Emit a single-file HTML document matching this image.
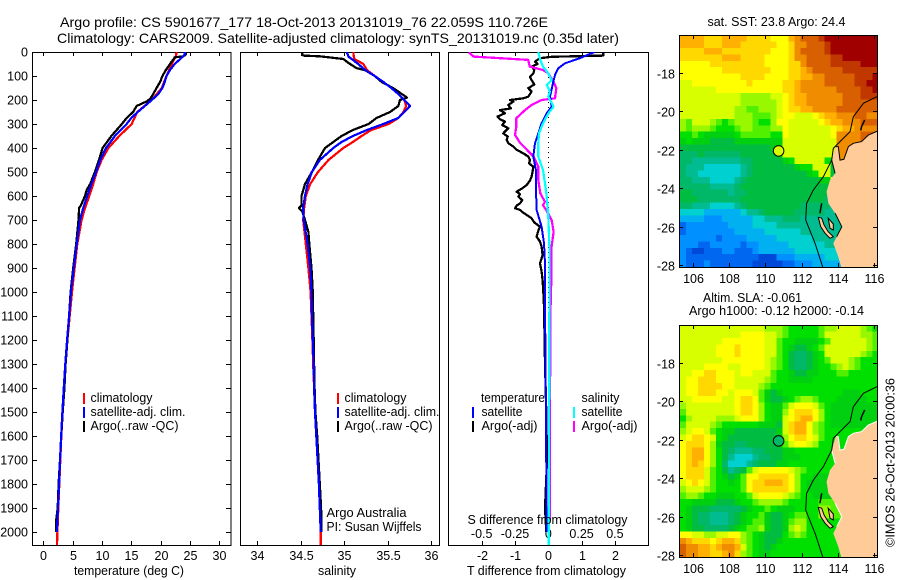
<!DOCTYPE html>
<html lang="en">
<head>
<meta charset="utf-8">
<title>Argo profile 5901677_177</title>
<style>
html,body{margin:0;padding:0;background:#fff;width:900px;height:580px;overflow:hidden}
svg{display:block}
text{font-family:"Liberation Sans",sans-serif;font-size:12.5px;fill:#000}
</style>
</head>
<body>
<svg id="chart" xmlns="http://www.w3.org/2000/svg" width="900" height="580" viewBox="0 0 900 580">
<defs>
<clipPath id="clip-temp"><rect x="32" y="52" width="199" height="493"/></clipPath>
<clipPath id="clip-sal"><rect x="240" y="52" width="199" height="493"/></clipPath>
<clipPath id="clip-diff"><rect x="448" y="52" width="200" height="493"/></clipPath>
<clipPath id="clip-map1"><rect x="680" y="36" width="197" height="231"/></clipPath>
<clipPath id="clip-map2"><rect x="680" y="326" width="197" height="231"/></clipPath>
</defs>

<text x="60" y="27" style="font-size:14px" textLength="488" lengthAdjust="spacingAndGlyphs">Argo profile: CS 5901677_177 18-Oct-2013 20131019_76 22.059S 110.726E</text>
<text x="57" y="43" style="font-size:14px" textLength="562" lengthAdjust="spacingAndGlyphs">Climatology: CARS2009. Satellite-adjusted climatology: synTS_20131019.nc (0.35d later)</text>

<g id="temp-panel"></g>
<g id="sal-panel"></g>
<g id="diff-panel"></g>

<text x="74" y="575" textLength="110" lengthAdjust="spacingAndGlyphs">temperature (deg C)</text>
<text x="318" y="575" textLength="38" lengthAdjust="spacingAndGlyphs">salinity</text>
<text x="467" y="575" textLength="159" lengthAdjust="spacingAndGlyphs">T difference from climatology</text>
<text x="467.5" y="524" textLength="160" lengthAdjust="spacingAndGlyphs">S difference from climatology</text>

<g>
<rect x="83" y="393" width="2" height="11" fill="#ff0000"/>
<text x="90.5" y="402" textLength="62" lengthAdjust="spacingAndGlyphs">climatology</text>
<rect x="83" y="407" width="2" height="11" fill="#0000ff"/>
<text x="90.5" y="416" textLength="95" lengthAdjust="spacingAndGlyphs">satellite-adj. clim.</text>
<rect x="83" y="421" width="2" height="11" fill="#000"/>
<text x="90.5" y="430" textLength="88" lengthAdjust="spacingAndGlyphs">Argo(..raw -QC)</text>
</g>
<g>
<rect x="337" y="393" width="2" height="11" fill="#ff0000"/>
<text x="344.5" y="402" textLength="62" lengthAdjust="spacingAndGlyphs">climatology</text>
<rect x="337" y="407" width="2" height="11" fill="#0000ff"/>
<text x="344.5" y="416" textLength="95" lengthAdjust="spacingAndGlyphs">satellite-adj. clim.</text>
<rect x="337" y="421" width="2" height="11" fill="#000"/>
<text x="344.5" y="430" textLength="88" lengthAdjust="spacingAndGlyphs">Argo(..raw -QC)</text>
</g>
<text x="326.5" y="517" textLength="80" lengthAdjust="spacingAndGlyphs">Argo Australia</text>
<text x="326.5" y="531" textLength="95" lengthAdjust="spacingAndGlyphs">PI: Susan Wijffels</text>

<g>
<text x="481" y="402" textLength="64" lengthAdjust="spacingAndGlyphs">temperature</text>
<rect x="472" y="407" width="2" height="11" fill="#0000ff"/>
<text x="481.5" y="416" textLength="41" lengthAdjust="spacingAndGlyphs">satellite</text>
<rect x="472" y="421" width="2" height="11" fill="#000"/>
<text x="481.5" y="430" textLength="56" lengthAdjust="spacingAndGlyphs">Argo(-adj)</text>
<text x="581.5" y="402" textLength="38" lengthAdjust="spacingAndGlyphs">salinity</text>
<rect x="573" y="407" width="2" height="11" fill="#00ffff"/>
<text x="581.5" y="416" textLength="41" lengthAdjust="spacingAndGlyphs">satellite</text>
<rect x="573" y="421" width="2" height="11" fill="#ff00ff"/>
<text x="581.5" y="430" textLength="56" lengthAdjust="spacingAndGlyphs">Argo(-adj)</text>
</g>

<text x="707.5" y="26" textLength="138" lengthAdjust="spacingAndGlyphs">sat. SST: 23.8 Argo: 24.4</text>
<g id="sst-map"></g>
<text x="703" y="302" textLength="99" lengthAdjust="spacingAndGlyphs">Altim. SLA: -0.061</text>
<text x="689" y="315" textLength="175" lengthAdjust="spacingAndGlyphs">Argo h1000: -0.12 h2000: -0.14</text>
<g id="sla-map"></g>
<text transform="translate(894.5,547) rotate(-90)" x="0" y="0" textLength="169" lengthAdjust="spacingAndGlyphs">©IMOS 26-Oct-2013 20:00:36</text>
</svg>

<script>
// ---------- profile data ----------
const depthTicks = [0,100,200,300,400,500,600,700,800,900,1000,1100,1200,1300,1400,1500,1600,1700,1800,1900,2000];
const tempTicks = [0,5,10,15,20,25,30];
const salTicks = [34,34.5,35,35.5,36];
const tDiffTicks = [-2,-1,0,1,2];
const sDiffTicks = [-0.5,-0.25,0,0.25,0.5];

const climDepths = [0,20,30,50,100,150,200,250,300,350,400,450,500,550,600,650,700,800,900,1000,1100,1200,1300,1400,1500,1600,1700,1800,1900,2000,2055];
const climTemp = [22.7,22.6,22.3,21.9,21,20.2,18.5,16,15.06,12.95,11.1,9.94,9.1,8.5,7.84,7.1,6.53,5.8,5.34,4.89,4.5,4.1,3.8,3.5,3.3,3.07,2.9,2.73,2.56,2.4,2.33];

const satTempDepths = [0,10,20,30,50,75,100,125,150,175,200,225,250,275,300,350,400,450,500,550,600,650,700,800,900,1000,1100,1200,1300,1400,1500,1600,1700,1800,1900,2000];
const satTemp = [24.1,24.1,23.7,23.3,22.4,21.6,21,20.7,20.3,19.6,18.5,17.3,16.1,15,14.2,12.2,10.7,9.7,9,8.2,7.5,6.8,6.25,5.7,5.2,4.7,4.4,4.05,3.75,3.5,3.25,3.05,2.85,2.7,2.5,2.3];

const argoTempDepths = [0,10,18,22,30,50,75,100,125,150,175,195,205,225,250,275,300,350,400,450,500,550,575,600,640,650,700,800,900,1000,1100,1200,1300,1400,1500,1600,1700,1800,1900,1950,2000];
const argoTemp = [24.3,24.3,23.9,22.4,22.2,21.6,20.9,20.3,19.9,19.3,18.75,18.2,17.7,15.9,15.3,14.2,13.4,11.6,10.1,9.5,8.8,8,7.4,7.1,6.4,6.1,6,5.6,5.1,4.66,4.4,4.1,3.8,3.6,3.3,3.05,2.85,2.6,2.45,2.2,2.2];

const salClimDepths = [0,20,30,50,75,100,125,150,175,200,225,250,275,300,325,350,375,400,450,500,550,600,650,700,800,900,1000,1100,1200,1300,1400,1500,1600,1700,1800,1900,2000,2055];
const climSal = [35.105,35.11,35.12,35.22,35.26,35.35,35.45,35.54,35.62,35.69,35.71,35.68,35.62,35.51,35.31,35.2,35.1,34.99,34.82,34.7,34.61,34.56,34.54,34.53,34.56,34.59,34.615,34.625,34.635,34.645,34.655,34.665,34.68,34.695,34.71,34.72,34.73,34.73];

const salSatDepths = [0,20,30,50,75,100,125,150,175,200,225,250,275,300,325,350,375,400,450,500,550,600,650,700,800,900,1000,1100,1200,1300,1400,1500,1600,1700,1800,1900,2000];
const satSal = [35.03,35.05,35.09,35.16,35.24,35.35,35.45,35.54,35.62,35.69,35.755,35.69,35.62,35.45,35.26,35.1,34.97,34.875,34.72,34.63,34.58,34.55,34.53,34.535,34.58,34.61,34.625,34.63,34.64,34.65,34.655,34.665,34.68,34.695,34.71,34.72,34.73];

const salArgoDepths = [0,10,15,18,29,46,67,76,100,125,150,175,190,200,225,250,275,300,325,350,375,400,450,500,550,600,640,650,665,700,750,800,900,1000,1100,1200,1300,1400,1500,1600,1700,1800,1900,2000];
const argoSal = [34.52,34.52,34.53,34.72,34.99,35.05,35.14,35.24,35.35,35.43,35.56,35.66,35.72,35.64,35.62,35.525,35.37,35.28,35.1,34.97,34.875,34.78,34.7,34.63,34.55,34.51,34.51,34.48,34.52,34.55,34.59,34.6,34.625,34.64,34.645,34.65,34.655,34.66,34.67,34.69,34.705,34.72,34.735,34.74];

const tArgoDiffDepths = [0,15,20,26,40,50,61,75,89,103,117,135,151,165,186,193,200,207,221,235,242,255,269,280,290,304,318,328,339,352,366,380,394,408,422,436,450,464,478,498,519,535,554,568,582,592,603,617,631,640,651,658,665,679,693,710,728,745,769,790,811,846,881,915,950,1000,1061,1300,1500,1700,1900,2000];
const tArgoDiff = [1.65,1.65,0.1,-0.25,-0.4,-0.32,-0.5,-0.42,-0.45,-0.55,-0.5,-0.42,-0.6,-0.5,-0.6,-0.75,-1.15,-1.05,-1.2,-1.12,-1.45,-1.3,-1.53,-1.45,-1.3,-1.38,-1.2,-1.28,-1.35,-1.22,-1.25,-1.2,-1.05,-0.95,-0.75,-0.6,-0.55,-0.58,-0.45,-0.47,-0.5,-0.55,-0.65,-0.78,-0.95,-0.85,-0.9,-0.78,-0.85,-0.95,-1,-0.85,-0.8,-0.65,-0.5,-0.42,-0.25,-0.3,-0.35,-0.25,-0.2,-0.17,-0.25,-0.2,-0.17,-0.15,-0.13,-0.1,-0.06,-0.04,-0.1,-0.06];

const tSatDiffDepths = [0,5,26,47,68,96,124,186,228,256,297,339,380,436,492,575,658,728,797,881,1061,1500,2000];
const tSatDiff = [1.4,1.3,0.95,0.5,0.3,0.2,0.15,0.05,0.1,-0.05,-0.2,-0.3,-0.4,-0.45,-0.37,-0.37,-0.35,-0.2,-0.13,-0.1,-0.1,-0.07,-0.05];

const sSatDiffDepths = [0,33,61,89,117,137,165,186,228,256,297,339,380,436,492,547,603,686,811,1061,1500,2055];
const sSatDiff = [-0.075,-0.06,-0.04,0,0.025,-0.012,0.012,0,0.04,0,-0.04,-0.07,-0.075,-0.075,-0.04,-0.025,-0.012,0,0.008,0.008,0.006,0.004];

const sArgoDiffDepths = [0,5,19,26,33,61,75,89,124,151,193,200,221,242,276,311,346,380,408,436,478,533,589,624,638,664,700,749,811,903,1061,1500,1950];
const sArgoDiff = [-0.59,-0.59,-0.56,-0.36,-0.15,-0.14,-0.04,0,0.04,0.06,0.05,-0.05,-0.125,-0.175,-0.24,-0.24,-0.25,-0.21,-0.16,-0.11,-0.075,-0.075,-0.06,-0.025,-0.04,-0.01,0.025,0.04,0.025,0.025,0.017,0.012,0.012];

// ---------- map data: colour level per cell, a (coldest) to t (warmest) ----------
const lonStart = 105.27, latStart = 16.04, lonStep = 1/3, latStep = 0.335;
const markerLon = 110.73, markerLat = 22.06;
const sstRows = [
"ppppoooppppoooonnnpqrrrsttttttttt",
"ppppooopppoooooonnoqqrrrstttttttt",
"oooopppoooooooonnnoqrrrrstttttttt",
"ooooooopppoooonnnnoqqrrrrsstttttt",
"nnnnnooooooooonnnnooqrrrrsssssttt",
"nnnnnnnoooooooonnnoopqrrrrrssssss",
"nnnnnnnnnnoooonnnnooppqqrrrrrssst",
"mmnnnnnnnnnonnnnnoopqqqqrrrrrsstt",
"mmmmmmnnnnnnnnnnnoopqqqqqqrrrrsst",
"mmmmmmmmmmlllllmmnoppqqqqqqrrrsss",
"mmmmmmmmmmllllllmnoppqqqqqqrrrrrr",
"mmmmmmmmmllkklllmnooppqqqqrrrrrrr",
"mmmmmmmmmlllkkklmnnmmmnoppqqqrrqq",
"lkmmmlkjklllkjjlnnmmmmmnoppqqqrrr",
"lklllkjjjkllkkkllnmmmmmmmnoppqqqq",
"jjkjiiiiijkkkkkjjnmmmmmmmnqqqqrrr",
"ijiiihhhhiiiiiiiimmmmmmmmmqqqqrrr",
"hhhhhhhhhhhhhhhiimmmmmmmmmqqqqqqq",
"ggghgggggghhhhhhimmmmmmmmmqqqqqqq",
"ggffffffffgghhhhhijmmmmmjjqqqffff",
"gfffeeeeeefghhhhhhhijjmmmhjjjffff",
"gffeeeeeeefghhhhhhhhhijmmhhhhffff",
"ggfffeeeefghhhhhhhhhhhhiimgffffff",
"gggggffffghhhhhhhhhhhhhhhhgffffff",
"hhggggggfgghhhhhhhhhhhhhhhgffffff",
"hhhggggggghhhhhhhhhhhhhhgggffffff",
"ggfffeeeefghhhhhhhhhgggggffffffff",
"eeeeddddddeffghhhhhgggggfffffffff",
"ddddcccdddddeefffgggfffffffffffff",
"bcccccccddddeeeefffffffffffffffff",
"bccccccccdddddeeeeeefffffffffffff",
"ccccccbccccdddddeeeeeefffffffffff",
"cccbbcccccbccdddddeeeeeefffeedddd",
"cbaabbbccbbbcddddddeeeeeeeeeddddd",
"cbbbbbbbbbbbbaaacccdddddeeeeddddd",
"cbbbcbbbbbbbaaaaabbcccddddddddddd"
];
const slaRows = [
"mmmmmmmmmmmmmmlllkjjjjjkllmmmmlkj",
"mmmmmmmmmmnnnnmmlkjjjjjkmmmmmmllk",
"mmmmmmmnnnnnnnmmkjjiiiijkmmmmmmlk",
"mmmmmmnnnonnnnmmkjihhijkmmmmmmmlk",
"mmmmmmnnnonnnnmmkjhgghijmmmmmmlkj",
"mmmmmmmnnnnnnnmlkjhgghijkmmmlkjjj",
"mmmmnnnnmmnnnnmlkjhgghijjklmlkjjj",
"mmnnoonnnmnnmmmkjjihhiijjjkkjjjjj",
"mnnooonnnmmmmmlkjjiiiijjjjjjjjjjj",
"mnnoooonnmmmmlkjjjjjjjjjjjjjjjjjj",
"mnnooonnmnnnmkihijjjjjjjjjjiiijjj",
"mmnnnnnmmnoonkihhijkllkjjjiiiiijj",
"lmmmmmmmmnoonljiikmnnnmkjiiiiiiii",
"kmmmmmmmmnoonljiilnooonljiiiiiiii",
"jlmmmmlllmnnnljiimnoppnljiiiiiiii",
"kmmmmlkjjjjjjiiihmoppnlkjiiiiiiii",
"lmnnmkjiihhhhhhhimoppnlkjjjjjjjjj",
"mnoonmjihhhhhhhhilnoonmkjjjjjjjjj",
"nooonlihhgghhhhhikmnnmljjjjjjjjjj",
"noppnljhgfffgghhhiijjjjjjjjjjjjjj",
"noppnljhfeeefgghhiiijjjjjjjjjjjjj",
"noponljgeeefghhhiijjjjjjjjjjjjjjj",
"nooomkjhfghkmnnnnnmlkjjjjjjjjjjjj",
"nooomkjihiknnooooonljjiiiijjjjjjj",
"mnonmkjjijknooppponljiiiiijjjjjjj",
"lmmmlkjjjjknoooooonljiiiiijjjjjjj",
"kllkjjiiijjkmnnnnmlkjjiiiijjjjjjj",
"jjiiiihhhijjkllllkjjjjjkkkkjjjjjj",
"jihhhggggghijjkjiiijjjjllkkjjjjjj",
"jihggfffghijjkihhijkkjjllkkjjjjjj",
"jihggfffghijkkihhiklljjjjjjjjjjjj",
"jihhgggghijkklihhilmljjjjjjjjjjjj",
"nnmmllmmnnlkjihhhjklkjjjjjjjjjjjj",
"qpooonoppolkjihhijjjjjjjjjjjjjjjj",
"rqqppopqqpmkjihijjjjjjjjjjjjjjjjj",
"rqqppoopqolkjiijjjjjjjjjjjjjjjjjj"
];
const lonTicks = [106,108,110,112,114,116];
const latTicks = [18,20,22,24,26,28];
const coastLon = [116.3,115.7,115.33,114.87,114.6,114.35,114.13,114.04,113.9,113.67,113.86,113.58,113.39,113.49,113.86,114.23,113.95,113.76,114.04,114.23,116.3];
const coastLat = [21.0,21.24,21.58,21.67,21.84,22.5,22.54,21.84,21.84,22.54,23.23,23.58,24.18,24.79,25.3,26.0,26.52,26.87,27.56,28.2,28.2];
const contourLon = [116.3,115.43,114.87,114.69,114.13,113.76,113.67,113.21,112.65,112.28,112.23,112.75,113.21];
const contourLat = [19.19,19.59,20.29,21.06,21.58,21.93,22.54,23.4,24.1,24.79,25.65,26.87,28.2];
const islandALon = [112.93,113.12,113.25,113.48,113.76,113.58,113.3,113.06];
const islandALat = [25.51,25.56,25.91,26.26,26.52,26.6,26.34,26.0];
const islandBLon = [113.48,113.76,113.76,113.58];
const islandBLat = [25.56,25.86,26.17,26.08];
const bayLineLon = [113.12,113.02];
const bayLineLat = [24.78,25.3];
const northIsletLon = [115.5,115.33,115.28];
const northIsletLat = [20.45,20.8,21.0];

// ---------- axis functions ----------
const depthY = d => 52 + d * 0.24;
const tempX = t => 43.3 + t * 5.867;
const salX = s => 257 + (s - 34) * 87.2;
const tDiffX = t => 548.3 + t * 33.3;
const sDiffX = s => 548.3 + s * 133.2;
const mapX = lon => 693.3 + (lon - 106) * 18.04;
const mapY = (lat, offset) => 72.7 + offset + (lat - 18) * 19.25;

const NS = 'http://www.w3.org/2000/svg';
const palette = {a:'#0048d8',b:'#0068f0',c:'#0090ff',d:'#00b0f0',e:'#00d0d0',f:'#00bc90',g:'#00b868',h:'#00bc40',i:'#00d010',j:'#00e000',k:'#50f000',l:'#98f800',m:'#d8ff00',n:'#ffff00',o:'#ffd800',p:'#ffb000',q:'#f08c00',r:'#d86000',s:'#c03800',t:'#a00000'};

function make(tag, parent, attrs) {
  const el = document.createElementNS(NS, tag);
  for (const k in attrs) el.setAttribute(k, attrs[k]);
  parent.appendChild(el);
  return el;
}

function drawFrame(parent, x, y, w, h) {
  const frame = make('rect', parent, {x: x + 0.5, y: y + 0.5, width: w, height: h, fill: 'none', stroke: '#000', 'stroke-width': 1, 'shape-rendering': 'crispEdges'});
  
  
}

function tickLine(parent, x1, y1, x2, y2) {
  const t = make('line', parent, {x1: x1, y1: y1, x2: x2, y2: y2, stroke: '#000', 'stroke-width': 1, 'shape-rendering': 'crispEdges'});
  
  
}

function tickText(parent, x, y, str, anchor) {
  const t = make('text', parent, {x: x, y: y, 'text-anchor': anchor});
  
  
  t.textContent = str;
}

function drawProfile(parent, depths, values, xFn, color, width, clip, name) {
  const pts = depths.map((d, i) => xFn(values[i]).toFixed(1) + ',' + depthY(d).toFixed(1)).join(' ');
  const line = make('polyline', parent, {points: pts, fill: 'none', stroke: color, 'stroke-width': width, 'clip-path': 'url(#' + clip + ')', 'shape-rendering': 'crispEdges', 'stroke-linejoin': 'round'});
  
  
}

// ---------- temperature panel ----------
const tempPanel = document.getElementById('temp-panel');
drawFrame(tempPanel, 32, 52, 198.5, 493);
depthTicks.forEach(d => {
  const y = Math.round(depthY(d)) + 0.5;
  tickLine(tempPanel, 32, y, 37, y);
  tickLine(tempPanel, 226, y, 231, y);
  tickText(tempPanel, 28, y + 4, String(d), 'end');
});
tempTicks.forEach(t => {
  const x = Math.round(tempX(t)) + 0.5;
  tickLine(tempPanel, x, 52, x, 56);
  tickLine(tempPanel, x, 541, x, 545);
  tickText(tempPanel, x, 560, String(t), 'middle');
});
drawProfile(tempPanel, climDepths, climTemp, tempX, '#ff0000', 2.25, 'clip-temp', 'temperature-climatology-line');
drawProfile(tempPanel, argoTempDepths, argoTemp, tempX, '#000000', 2.25, 'clip-temp', 'temperature-argo-line');
drawProfile(tempPanel, satTempDepths, satTemp, tempX, '#0000ff', 2.25, 'clip-temp', 'temperature-satellite-line');

// ---------- salinity panel ----------
const salPanel = document.getElementById('sal-panel');
drawFrame(salPanel, 240, 52, 199, 493);
salTicks.forEach(s => {
  const x = Math.round(salX(s)) + 0.5;
  tickLine(salPanel, x, 52, x, 56);
  tickLine(salPanel, x, 541, x, 545);
  tickText(salPanel, x, 560, String(s), 'middle');
});
drawProfile(salPanel, salClimDepths, climSal, salX, '#ff0000', 2.25, 'clip-sal', 'salinity-climatology-line');
drawProfile(salPanel, salArgoDepths, argoSal, salX, '#000000', 2.25, 'clip-sal', 'salinity-argo-line');
drawProfile(salPanel, salSatDepths, satSal, salX, '#0000ff', 2.25, 'clip-sal', 'salinity-satellite-line');

// ---------- difference panel ----------
const diffPanel = document.getElementById('diff-panel');
drawFrame(diffPanel, 448, 52, 200, 493);
tDiffTicks.forEach(t => {
  const x = Math.round(tDiffX(t)) + 0.5;
  tickLine(diffPanel, x, 541, x, 545);
  tickLine(diffPanel, x, 52, x, 56);
  tickText(diffPanel, x, 560, String(t), 'middle');
});
sDiffTicks.forEach(s => {
  tickText(diffPanel, sDiffX(s), 538, String(s), 'middle');
});
const zeroLine = make('line', diffPanel, {x1: 548.5, y1: 52, x2: 548.5, y2: 545, stroke: '#000', 'stroke-width': 1, 'stroke-dasharray': '1 4', 'shape-rendering': 'crispEdges'});


drawProfile(diffPanel, tArgoDiffDepths, tArgoDiff, tDiffX, '#000000', 2.25, 'clip-diff', 't-argo-difference-line');
drawProfile(diffPanel, sArgoDiffDepths, sArgoDiff, sDiffX, '#ff00ff', 2.25, 'clip-diff', 's-argo-difference-line');
drawProfile(diffPanel, tSatDiffDepths, tSatDiff, tDiffX, '#0000ff', 2, 'clip-diff', 't-satellite-difference-line');
drawProfile(diffPanel, sSatDiffDepths, sSatDiff, sDiffX, '#00ffff', 2.25, 'clip-diff', 's-satellite-difference-line');

// ---------- maps ----------
function polyPoints(lons, lats, offset) {
  return lons.map((lon, i) => mapX(lon).toFixed(1) + ',' + mapY(lats[i], offset).toFixed(1)).join(' ');
}

function drawMap(parent, rows, offset, clip, markerFill, shoreColor) {
  rows.forEach((row, r) => {
    for (let c = 0; c < row.length; c++) {
      const lon = lonStart + c * lonStep;
      const lat = latStart + r * latStep;
      const cell = make('rect', parent, {x: mapX(lon).toFixed(2), y: mapY(lat, offset).toFixed(2), width: (lonStep * 18.04 + 0.4).toFixed(2), height: (latStep * 19.25 + 0.4).toFixed(2), fill: palette[row[c]], 'clip-path': 'url(#' + clip + ')', 'shape-rendering': 'crispEdges'});
      
      
    }
  });
  const land = make('polygon', parent, {points: polyPoints(coastLon, coastLat, offset), fill: '#ffcc99', 'clip-path': 'url(#' + clip + ')'});
  
  
  [[coastLon.slice(0, 9), coastLat.slice(0, 9)], [coastLon.slice(9, 11), coastLat.slice(9, 11)], [coastLon.slice(14, 17), coastLat.slice(14, 17)]].forEach(seg => {
    const shore = make('polyline', parent, {points: polyPoints(seg[0], seg[1], offset), fill: 'none', stroke: shoreColor, 'stroke-width': 1, 'clip-path': 'url(#' + clip + ')'});
    
    
  });
  [[islandALon, islandALat], [islandBLon, islandBLat]].forEach(pair => {
    const island = make('polygon', parent, {points: polyPoints(pair[0], pair[1], offset), fill: '#ffcc99', stroke: '#000', 'stroke-width': 1, 'clip-path': 'url(#' + clip + ')'});
    
    
  });
  [[bayLineLon, bayLineLat], [northIsletLon, northIsletLat]].forEach(pair => {
    const feature = make('polyline', parent, {points: polyPoints(pair[0], pair[1], offset), fill: 'none', stroke: '#000', 'stroke-width': 1.5, 'clip-path': 'url(#' + clip + ')'});
    
    
  });
  const contour = make('polyline', parent, {points: polyPoints(contourLon, contourLat, offset), fill: 'none', stroke: '#000', 'stroke-width': 1, 'clip-path': 'url(#' + clip + ')'});
  
  
  drawFrame(parent, 679, 35 + offset, 198, 232);
  lonTicks.forEach(lon => {
    const x = Math.round(mapX(lon)) + 0.5;
    tickLine(parent, x, 35 + offset, x, 39 + offset);
    tickLine(parent, x, 263 + offset, x, 267 + offset);
    tickText(parent, x, 283 + offset, String(lon), 'middle');
  });
  latTicks.forEach(lat => {
    const y = Math.round(mapY(lat, offset)) + 0.5;
    tickLine(parent, 679, y, 683, y);
    tickLine(parent, 873, y, 877, y);
    tickText(parent, 675, y + 5, '-' + lat, 'end');
  });
  const marker = make('circle', parent, {cx: mapX(markerLon).toFixed(1), cy: mapY(markerLat, offset).toFixed(1), r: 5.3, fill: markerFill, stroke: '#000', 'stroke-width': 1});
  
  
}

drawMap(document.getElementById('sst-map'), sstRows, 0, 'clip-map1', '#d8ff00', '#000');
drawMap(document.getElementById('sla-map'), slaRows, 290, 'clip-map2', '#00b868', '#fff');
</script>
</body>
</html>
